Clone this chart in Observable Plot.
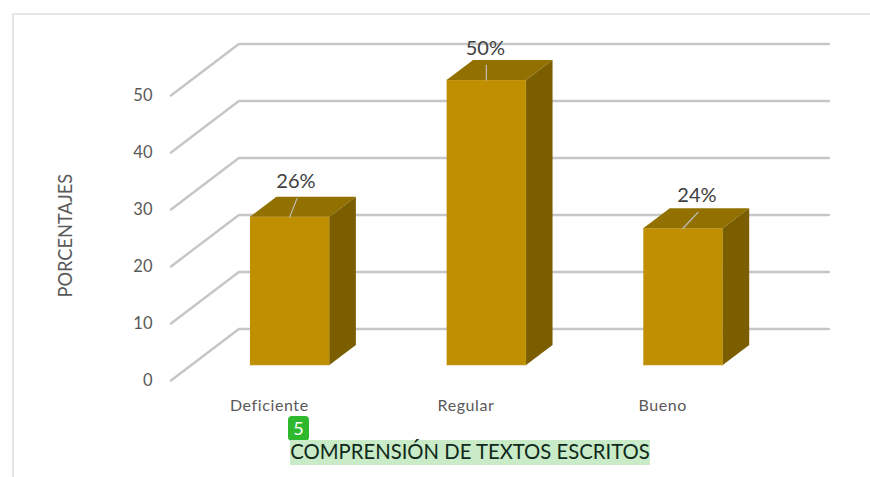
<!DOCTYPE html>
<html lang="es">
<head>
<meta charset="utf-8">
<script src="https://cdn.jsdelivr.net/npm/d3@7"></script>
<script src="https://cdn.jsdelivr.net/npm/@observablehq/plot@0.6"></script>
<style>
  html, body { margin: 0; padding: 0; background: #fff; }
  #page { position: relative; width: 870px; height: 477px; overflow: hidden; }
  #frame { position: absolute; left: 12px; top: 13px; width: 858px; height: 464px;
           border-left: 2px solid #e6e6e6; border-top: 2px solid #e6e6e6; box-sizing: border-box; }
  #chart { position: absolute; left: 0; top: 0; }
  #chart svg g[aria-label="x-axis tick label"] { letter-spacing: 0.6px; }
  #title { position: absolute; left: 290px; top: 440px; width: 360px; height: 25px;
           background: #c9ebc8; color: #10291a; font: 20.3px/23px Lato, sans-serif; white-space: nowrap; text-align: center; }
  #badge { position: absolute; left: 288px; top: 416px; width: 21px; height: 25px; border-radius: 4px;
           background: #2db82d; color: #fff; font: 18px/25px Lato, sans-serif; text-align: center; }
</style>
</head>
<body>
<div id="page">
  <div id="frame"></div>
  <div id="chart"></div>
  <div id="badge">5</div>
  <div id="title">COMPRENSIÓN DE TEXTOS ESCRITOS</div>
</div>
<script>
const categories = ["Deficiente", "Regular", "Bueno"];
const values = [26, 50, 24];
const valueLabels = ["26%", "50%", "24%"];
const yTicks = [0, 10, 20, 30, 40, 50];
const axisTitle = "PORCENTAJES";
// leader-line rise from each bar's top: [category units, percentage points]
const leaderShiftX = [0.037, 0, 0.076];
const leaderShiftY = [3.2, 2.6, 2.8];

// oblique projection of the floor's depth, in scale units
const depthX = 0.345, depthY = 9.035;
const barFront = 0.3, barBack = 0.69, barHalf = 0.202;
const project = (x, v, d) => ({x: x + d * depthX, y: v + d * depthY});

const grid = yTicks.flatMap(v => [
  {k: v, ...project(-0.5, v, 0)},
  {k: v, ...project(-0.5, v, 1)},
  {k: v, ...project(2.5, v, 1)}
]);

const faces = (name, pts) => pts.map(p => ({k: name, ...p}));
const frontFaces = [], topFaces = [], sideFaces = [];
values.forEach((v, i) => {
  const a = i - barHalf, b = i + barHalf;
  frontFaces.push(...faces("f" + i, [project(a, 0, barFront), project(b, 0, barFront), project(b, v, barFront), project(a, v, barFront)]));
  topFaces.push(...faces("t" + i, [project(a, v, barFront), project(b, v, barFront), project(b, v, barBack), project(a, v, barBack)]));
  sideFaces.push(...faces("s" + i, [project(b, 0, barFront), project(b, 0, barBack), project(b, v, barBack), project(b, v, barFront)]));
});

const leaders = values.flatMap((v, i) => {
  const p = project(i, v, barFront);
  return [{k: i, x: p.x, y: p.y}, {k: i, x: p.x + leaderShiftX[i], y: p.y + leaderShiftY[i]}];
});
const labels = values.map((v, i) => {
  const p = project(i, v, barFront);
  return {x: p.x + leaderShiftX[i], y: p.y + leaderShiftY[i], text: valueLabels[i]};
});

const chart = Plot.plot({
  width: 870,
  height: 415,
  marginLeft: 170.5,
  marginRight: 109.5,
  marginTop: 95,
  marginBottom: 35,
  style: {background: "transparent", fontFamily: "Lato, sans-serif", overflow: "visible"},
  x: {domain: [-0.5, 2.5], axis: null},
  y: {domain: [0, 50], axis: null},
  marks: [
    Plot.line(grid, {x: "x", y: "y", z: "k", stroke: "#c6c6c6", strokeWidth: 2.4, curve: "linear"}),
    Plot.line(frontFaces, {x: "x", y: "y", z: "k", fill: "#bf8f00", stroke: "#c9a53a", strokeWidth: 0.6}),
    Plot.line(topFaces, {x: "x", y: "y", z: "k", fill: "#927100", stroke: "none"}),
    Plot.line(sideFaces, {x: "x", y: "y", z: "k", fill: "#7a5e00", stroke: "none"}),
    Plot.line(leaders, {x: "x", y: "y", z: "k", stroke: "#bfbfbf", strokeWidth: 1.2}),
    Plot.text(labels, {x: "x", y: "y", text: "text", dx: -1, dy: -17, fontSize: 20, fill: "#404040"}),
    Plot.axisY({ticks: yTicks, tickSize: 0, tickPadding: 18.5, dy: 0, fontSize: 16.5, fill: "#595959", label: null}),
    Plot.axisX({ticks: [0, 1, 2], tickFormat: i => categories[i], tickSize: 0, tickPadding: 19, fontSize: 16, fill: "#595959", label: null}),
    Plot.text([axisTitle], {frameAnchor: "left", dx: -105, y: [25.4], text: d => d, rotate: -90, textAnchor: "middle", fontSize: 18.3, fill: "#595959"})
  ]
});
document.getElementById("chart").appendChild(chart);
</script>
</body>
</html>
